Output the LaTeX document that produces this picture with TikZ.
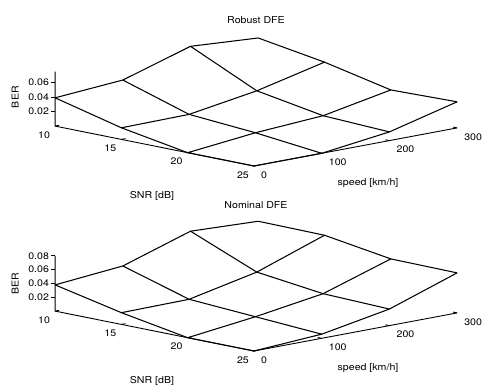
\documentclass[tikz,border=0pt]{standalone}
\usepackage{fontspec}
\setsansfont{TeX Gyre Heros}[FakeStretch=1.12]
\usepackage{tikz}
\tikzset{
  mesh/.style={draw=black, line width=1.05bp, line join=round},
  axis/.style={draw=black, line width=0.9bp},
  lab/.style={font=\sffamily\fontsize{9.5}{11}\selectfont, inner sep=0pt},
  ttl/.style={font=\sffamily\fontsize{9.5}{11}\selectfont, inner sep=0pt},
}

\begin{document}
\begin{tikzpicture}[x=1bp, y=1bp]
  \fill[white] (0,0) rectangle (483,386);
  \useasboundingbox (0,0) rectangle (483,386);

  % plot / origin y / BER scale / axis top / BER ticks / BER rows (SNR 10..25, speed 0..300)
  \foreach \plt/\oy/\zs/\zmax/\zticks/\rows in {
      Robust/220/725/0.075/{0.02,0.04,0.06}/{{0.039,0.046,0.075,0.069},{0.016,0.017,0.032,0.054},{0,0.010,0.016,0.034},{0,0,0.012,0.036}},
      Nominal/35/690/0.08/{0.02,0.04,0.06,0.08}/{{0.038,0.047,0.079,0.075},{0.017,0.018,0.039,0.074},{0,0.012,0.027,0.059},{0,0.006,0.024,0.058}}}
  {
    \begin{scope}[shift={(254bp,\oy bp)}, x={(-66.3bp,13.3bp)}, y={(67.7bp,12.7bp)}, z={(0bp,\zs bp)}]
      \coordinate (\plt-o) at (0,0,0);
      \coordinate (\plt-s) at (3,0,0);
      \coordinate (\plt-v) at (0,3,0);
      \coordinate (\plt-t) at (3,0,\zmax);
      \draw[axis] (\plt-t) -- (\plt-s) -- (\plt-o) -- (\plt-v);

      % surface points
      \foreach \r [count=\i from 0] in \rows {
        \foreach \b [count=\j from 0] in \r {
          \coordinate (\plt-\i-\j) at (3-\i, \j, \b);
        }
      }
      \foreach \i in {0,...,3}
        \draw[mesh] (\plt-\i-0) -- (\plt-\i-1) -- (\plt-\i-2) -- (\plt-\i-3);
      \foreach \j in {0,...,3}
        \draw[mesh] (\plt-0-\j) -- (\plt-1-\j) -- (\plt-2-\j) -- (\plt-3-\j);

      % ticks
      \foreach \s [count=\k from 0] in {25,20,15,10} {
        \coordinate (\plt-sn\k) at (\k,0,0);
        \draw[axis] (\plt-sn\k) -- ++(0,0.06,0);
        \node[lab, anchor=east, xshift=-5bp, yshift=-9bp] (\plt-snl\k) at (\plt-sn\k) {\s};
      }
      \foreach \v [count=\k from 0] in {0,100,200,300} {
        \coordinate (\plt-sp\k) at (0,\k,0);
        \draw[axis] (\plt-sp\k) -- ++(0.06,0,0);
        \node[lab, anchor=west, xshift=7bp, yshift=-9bp] (\plt-spl\k) at (\plt-sp\k) {\v};
      }
      \foreach \t [count=\k] in \zticks {
        \coordinate (\plt-b\k) at (3,0,\t);
        \draw[axis] (\plt-b\k) -- ++(-4bp,0bp);
        \node[lab, anchor=east, xshift=-6bp] (\plt-bl\k) at (\plt-b\k) {\t};
      }

      % labels
      \node[lab, xshift=-40bp, rotate=90] (\plt-ber) at (3,0,0.04) {BER};
      \node[lab] (\plt-snr) at ([shift={(-102bp,-30bp)}]\plt-o) {SNR [dB]};
      \node[lab] (\plt-speed) at ([shift={(114bp,-17bp)}]\plt-o) {speed [km/h]};
      \node[ttl] (\plt-title) at ([shift={(2bp,146bp)}]\plt-o) {\plt\ DFE};
    \end{scope}
  }
\end{tikzpicture}
\end{document}
